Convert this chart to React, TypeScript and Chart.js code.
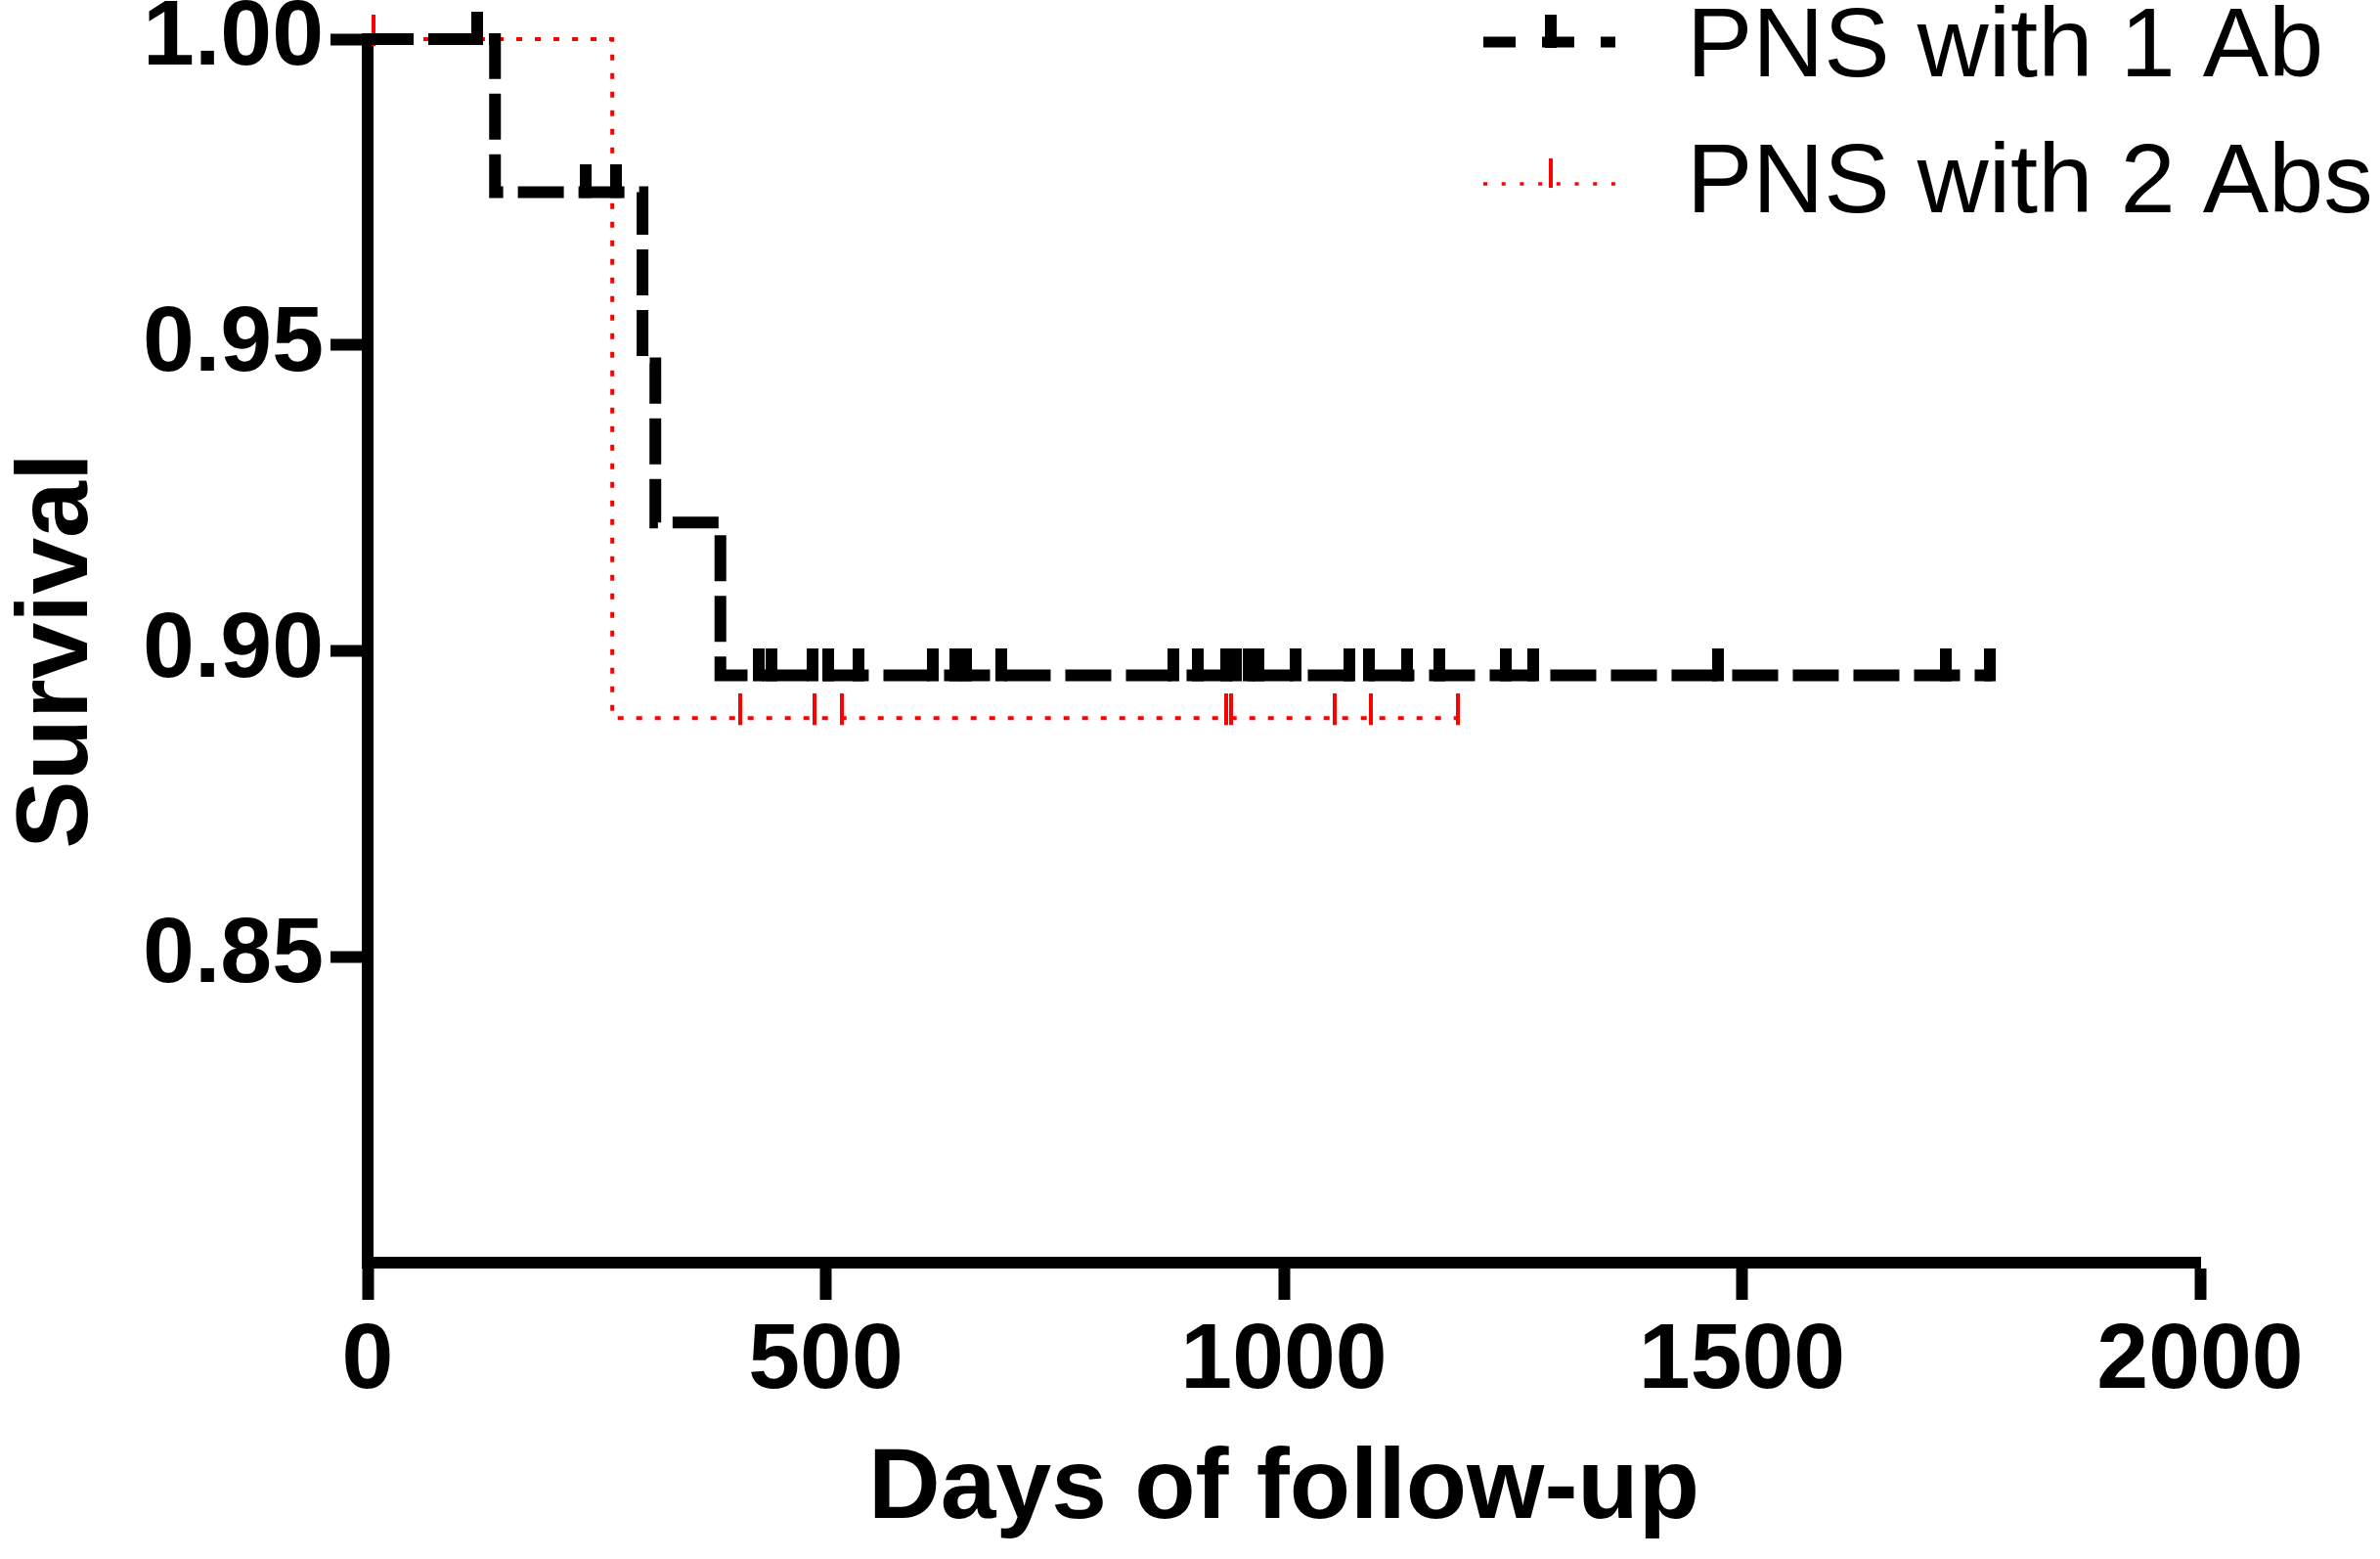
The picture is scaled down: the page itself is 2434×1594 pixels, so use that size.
import React, { useEffect, useRef } from 'react';
import { Chart, registerables } from 'chart.js';

Chart.register(...registerables);

// ---- data ----
const seriesNames = ['PNS with 1 Ab', 'PNS with 2 Abs'];

const oneAbEventDays = [0, 139, 300, 314, 385, 1773];
const oneAbSurvival = [1.0, 0.975, 0.947, 0.921, 0.896, 0.896];
const oneAbCensoredDays = [
  120, 238, 271, 427, 441, 486, 503, 536, 617, 641, 653, 692, 879, 906, 937, 948,
  962, 972, 1013, 1072, 1093, 1135, 1170, 1242, 1272, 1474, 1723, 1771,
];

const twoAbEventDays = [0, 267, 1190];
const twoAbSurvival = [1.0, 0.889, 0.889];
const twoAbCensoredDays = [6, 407, 488, 518, 937, 942, 1056, 1095, 1190];

const xTickValues = [0, 500, 1000, 1500, 2000];
const yTickValues = [0.85, 0.9, 0.95, 1.0];

const FONT = "'Liberation Sans', Arial, Helvetica, sans-serif";

function survivalAt(days: number[], surv: number[], t: number): number {
  let v = surv[0];
  for (let i = 0; i < days.length; i++) {
    if (days[i] <= t) v = surv[i];
  }
  return v;
}

function makeTick(width: number, up: number, down: number, color: string) {
  const c = document.createElement('canvas');
  const half = Math.max(up, down);
  c.width = width;
  c.height = half * 2;
  const g = c.getContext('2d')!;
  g.fillStyle = color;
  g.fillRect(0, half - up, width, up + down);
  return c;
}

const legendPlugin = {
  id: 'kmLegend',
  afterDraw(chart: any) {
    const ctx = chart.ctx as CanvasRenderingContext2D;
    const x0 = 1517;
    const x1 = 1652;
    const xm = 1586;
    const textX = 1725;
    const rows = [
      { y: 43, base: 78 },
      { y: 188, base: 217 },
    ];
    ctx.save();
    // black sample
    ctx.strokeStyle = '#000';
    ctx.lineWidth = 11;
    ctx.lineCap = 'butt';
    ctx.setLineDash([33, 27]);
    ctx.beginPath();
    ctx.moveTo(x0, rows[0].y);
    ctx.lineTo(x1, rows[0].y);
    ctx.stroke();
    ctx.setLineDash([]);
    ctx.fillStyle = '#000';
    ctx.fillRect(xm - 6, rows[0].y - 28, 12, 34);
    // red sample
    ctx.strokeStyle = '#ff0000';
    ctx.lineWidth = 3.5;
    ctx.setLineDash([4, 14.7]);
    ctx.beginPath();
    ctx.moveTo(x0, rows[1].y);
    ctx.lineTo(x1, rows[1].y);
    ctx.stroke();
    ctx.setLineDash([]);
    ctx.fillStyle = '#ff0000';
    ctx.fillRect(xm - 2, rows[1].y - 26, 4, 30);
    // labels
    ctx.fillStyle = '#000';
    ctx.font = `101px ${FONT}`;
    ctx.textAlign = 'left';
    ctx.textBaseline = 'alphabetic';
    ctx.fillText(seriesNames[0], textX, rows[0].base);
    ctx.fillText(seriesNames[1], textX, rows[1].base);
    ctx.restore();
  },
};

export default function App() {
  const ref = useRef<HTMLCanvasElement | null>(null);

  useEffect(() => {
    const canvas = ref.current;
    if (!canvas) return;
    const blackTick = makeTick(12, 28, 6, '#000000');
    const redTick = makeTick(4, 25, 7, '#ff0000');

    const chart = new Chart(canvas, {
      type: 'line',
      data: {
        datasets: [
          {
            label: seriesNames[0] + ' censored',
            data: oneAbCensoredDays.map((d) => ({ x: d, y: survivalAt(oneAbEventDays, oneAbSurvival, d) })),
            showLine: false,
            pointStyle: blackTick as any,
            pointRadius: 10,
            clip: false as any,
          },
          {
            label: seriesNames[0],
            data: oneAbEventDays.map((d, i) => ({ x: d, y: oneAbSurvival[i] })),
            borderColor: '#000000',
            borderWidth: 12,
            borderDash: [47, 15],
            borderCapStyle: 'butt',
            borderJoinStyle: 'miter',
            stepped: true,
            pointRadius: 0,
            fill: false,
            clip: false as any,
          },
          {
            label: seriesNames[1] + ' censored',
            data: twoAbCensoredDays.map((d) => ({ x: d, y: survivalAt(twoAbEventDays, twoAbSurvival, d) })),
            showLine: false,
            pointStyle: redTick as any,
            pointRadius: 10,
            clip: false as any,
          },
          {
            label: seriesNames[1],
            data: twoAbEventDays.map((d, i) => ({ x: d, y: twoAbSurvival[i] })),
            borderColor: '#ff0000',
            borderWidth: 4,
            borderDash: [6, 13],
            borderCapStyle: 'butt',
            stepped: true,
            pointRadius: 0,
            fill: false,
            clip: false as any,
          },
        ],
      },
      options: {
        animation: false,
        responsive: false,
        devicePixelRatio: 1,
        events: [],
        layout: { padding: { top: 40, right: 184, left: 0, bottom: 0 } },
        plugins: {
          legend: { display: false },
          tooltip: { enabled: false },
        },
        scales: {
          x: {
            type: 'linear',
            min: 0,
            max: 2000,
            afterBuildTicks: (scale: any) => {
              scale.ticks = xTickValues.map((v) => ({ value: v }));
            },
            afterFit: (scale: any) => {
              scale.height = 303;
              scale.paddingLeft = 0;
              scale.paddingRight = 0;
            },
            ticks: {
              color: '#000',
              padding: 16,
              maxRotation: 0,
              autoSkip: false,
              font: { family: FONT, size: 95, weight: 'bold', lineHeight: 1 },
              callback: (v: any) => String(v),
            },
            border: { display: true, color: '#000', width: 12 },
            grid: {
              display: true,
              drawOnChartArea: false,
              drawTicks: true,
              tickLength: 38,
              tickWidth: 12,
              tickColor: '#000',
            },
            title: {
              display: true,
              text: 'Days of follow-up',
              color: '#000',
              font: { family: FONT, size: 102, weight: 'bold', lineHeight: 1 },
              padding: { top: 0, bottom: 19 },
            },
          },
          y: {
            type: 'linear',
            min: 0.8,
            max: 1.0,
            afterBuildTicks: (scale: any) => {
              scale.ticks = yTickValues.map((v) => ({ value: v }));
            },
            afterFit: (scale: any) => {
              scale.width = 376;
              scale.paddingTop = 0;
              scale.paddingBottom = 0;
            },
            ticks: {
              color: '#000',
              padding: 7,
              autoSkip: false,
              font: { family: FONT, size: 95, weight: 'bold', lineHeight: 1 },
              callback: (v: any) => Number(v).toFixed(2),
            },
            border: { display: true, color: '#000', width: 12 },
            grid: {
              display: true,
              drawOnChartArea: false,
              drawTicks: true,
              tickLength: 38,
              tickWidth: 12,
              tickColor: '#000',
            },
            title: {
              display: true,
              text: 'Survival',
              color: '#000',
              font: { family: FONT, size: 104, weight: 'bold', lineHeight: 1 },
              padding: { top: 8, bottom: 0 },
            },
          },
        },
      } as any,
      plugins: [legendPlugin],
    });

    return () => {
      chart.destroy();
    };
  }, []);

  return (
    <div style={{ position: 'absolute', left: 0, top: 0, width: 2434, height: 1594, background: '#fff' }}>
      <canvas ref={ref} width={2434} height={1594} style={{ width: 2434, height: 1594, display: 'block' }} />
    </div>
  );
}
